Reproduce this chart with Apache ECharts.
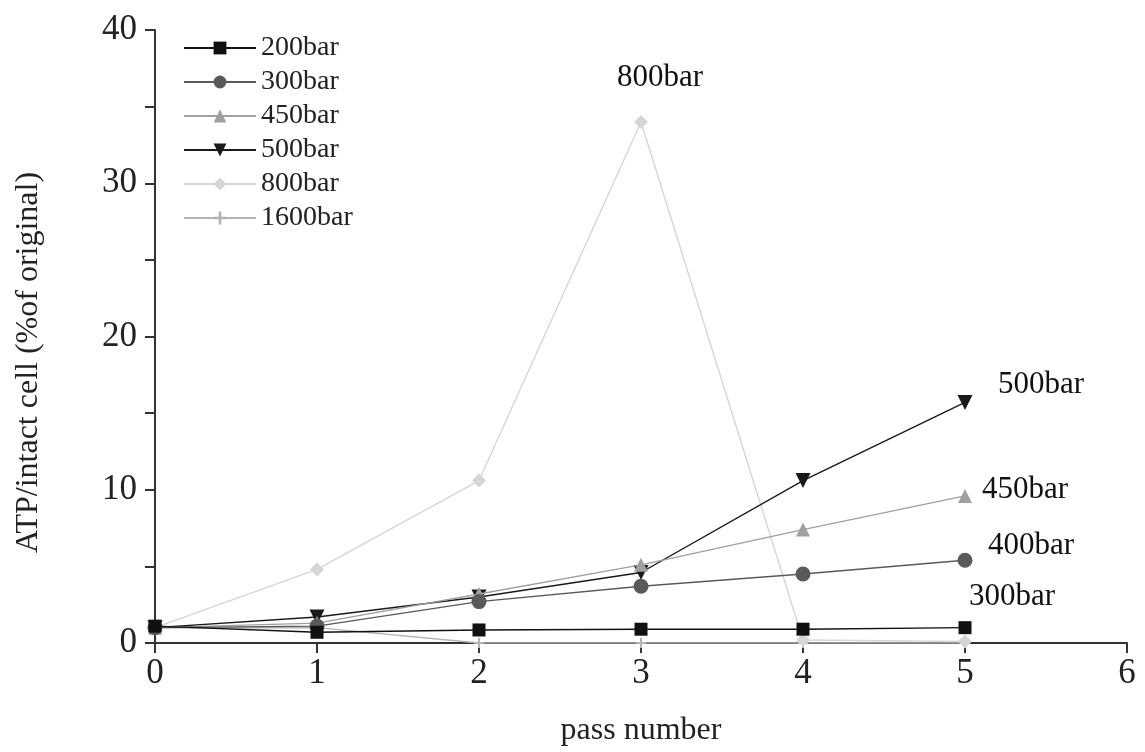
<!DOCTYPE html>
<html>
<head>
<meta charset="utf-8">
<script src="https://cdn.jsdelivr.net/npm/echarts@6/dist/echarts.min.js"></script>
<style>html,body{margin:0;padding:0;background:#fff}#c{width:1145px;height:752px}</style>
</head>
<body>
<div id="c"></div>
<script>
// ---- data ----
var passNumbers = [0, 1, 2, 3, 4, 5];
var seriesNames = ['200bar', '300bar', '450bar', '500bar', '800bar', '1600bar'];
var v200 = [1.1, 0.7, 0.85, 0.9, 0.9, 1.0];
var v300 = [1.0, 1.1, 2.7, 3.7, 4.5, 5.4];
var v450 = [1.0, 1.3, 3.2, 5.1, 7.4, 9.6];
var v500 = [1.0, 1.7, 3.0, 4.6, 10.6, 15.7];
var v800 = [1.0, 4.8, 10.6, 34.0, 0.2, 0.1];
var v1600 = [1.0, 1.0, 0.0, 0.0, 0.0, 0.0];
var xTicks = [0, 1, 2, 3, 4, 5, 6];
var yTicks = [0, 10, 20, 30, 40];
// annotation texts, anchored to [series index, point index]
var annotTexts = ['800bar', '500bar', '450bar', '400bar', '300bar'];
var annotAnchor = [[4, 3], [3, 5], [2, 5], [1, 5], [0, 5]];

// ---- styles ----
var allValues = [v200, v300, v450, v500, v800, v1600];
var colors = ['#111111', '#5a5a5a', '#a0a0a0', '#1a1a1a', '#d6d6d6', '#b4b4b4'];
var symbols = ['rect', 'circle', 'triangle', 'path://M0,0 L10,0 L5,9 Z', 'diamond', 'path://M4,0 L6,0 L6,4 L10,4 L10,6 L6,6 L6,10 L4,10 L4,6 L0,6 L0,4 L4,4 Z'];
var symSizes = [13, 15, 14, 15, 14, 10];
var annotOffsets = [[19, -44], [76, -18], [60, -6], [66, -14], [47, -31]];
var FONT = 'Liberation Serif';

var series = seriesNames.map(function (name, i) {
  var s = {
    name: name,
    type: 'line',
    data: passNumbers.map(function (x, j) { return [x, allValues[i][j]]; }),
    symbol: symbols[i],
    symbolSize: symSizes[i],
    showAllSymbol: true,
    lineStyle: { color: colors[i], width: 1.4 },
    itemStyle: { color: colors[i] },
    z: 10 - i
  };
  var mp = [];
  annotAnchor.forEach(function (a, k) {
    if (a[0] === i) {
      mp.push({
        coord: [passNumbers[a[1]], allValues[i][a[1]]],
        symbol: 'circle', symbolSize: 0,
        label: {
          show: true, formatter: annotTexts[k], position: 'inside',
          offset: annotOffsets[k], color: '#111', fontFamily: FONT, fontSize: 31
        }
      });
    }
  });
  if (mp.length) s.markPoint = { data: mp, silent: true, animation: false };
  return s;
});

var chart = echarts.init(document.getElementById('c'), null, { renderer: 'canvas' });
chart.setOption({
  animation: false,
  backgroundColor: '#ffffff',
  grid: { left: 155, right: 18, top: 30, bottom: 108, containLabel: false },
  legend: {
    data: seriesNames,
    orient: 'vertical',
    left: 178, top: 28,
    itemWidth: 72, itemHeight: 16, itemGap: 4,
    textStyle: { fontFamily: FONT, fontSize: 28, color: '#222', lineHeight: 30 }
  },
  xAxis: {
    type: 'value', min: xTicks[0], max: xTicks[xTicks.length - 1], interval: 1,
    name: 'pass number', nameLocation: 'middle', nameGap: 72,
    nameTextStyle: { fontFamily: FONT, fontSize: 32, color: '#222' },
    axisLine: { lineStyle: { color: '#333', width: 2 } },
    axisTick: { show: true, inside: false, length: 10, lineStyle: { color: '#333', width: 2 } },
    axisLabel: { fontFamily: FONT, fontSize: 35, color: '#222', margin: 13 },
    splitLine: { show: false }
  },
  yAxis: {
    type: 'value', min: yTicks[0], max: yTicks[yTicks.length - 1], interval: 10,
    name: 'ATP/intact cell (%of original)', nameLocation: 'middle', nameGap: 110, nameRotate: 90,
    nameTextStyle: { fontFamily: FONT, fontSize: 32, color: '#222', padding: [0, 52, 0, 0] },
    axisLine: { show: true, lineStyle: { color: '#333', width: 2 } },
    axisTick: { show: true, inside: false, length: 10, lineStyle: { color: '#333', width: 2 } },
    minorTick: { show: true, splitNumber: 2, length: 10, lineStyle: { color: '#333', width: 2 } },
    axisLabel: { fontFamily: FONT, fontSize: 35, color: '#222', margin: 18 },
    splitLine: { show: false }
  },
  series: series
});
</script>
</body>
</html>
